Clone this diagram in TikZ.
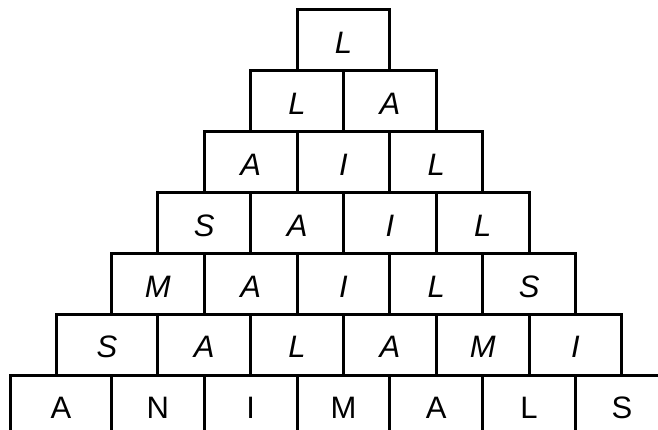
\documentclass[tikz,border=0pt]{standalone}
\usepackage{fontspec}
\setmainfont{Liberation Sans}
\tikzset{
    cell/.style={draw, line width=3pt, minimum width=92.8pt, minimum height=60.9pt,
        inner sep=0pt, text height=26pt, text depth=0pt, font=\fontsize{31}{32}\selectfont},
    slanted/.style={font=\fontsize{31}{32}\selectfont\itshape},
    widecell/.style={minimum width=101.8pt}
}
\begin{document}
\begin{tikzpicture}[x=1pt, y=-1pt]
    \clip (0,0) rectangle (658,430);
    
    % upper rows: cell c of row r
    \foreach \r/\word in {1/{L}, 2/{L,A}, 3/{A,I,L}, 4/{S,A,I,L}, 5/{M,A,I,L,S}} {
        \foreach \ch [count=\c from 0] in \word {
            \node[cell, slanted] (r\r c\c) at ({343.5+(\c-(\r-1)/2)*92.8}, {10+(\r-0.5)*60.9}) {\ch};
        }
    }
    
    % row 6, first cell is wider
    \node[cell, slanted, widecell] (r6c0) at (107, {10+5.5*60.9}) {S};
    \foreach \ch [count=\c from 1] in {A,L,A,M,I} {
        \node[cell, slanted] (r6c\c) at ({343.5+(\c-2.5)*92.8}, {10+5.5*60.9}) {\ch};
    }
    
    % bottom row, upright letters
    \node[cell, widecell] (r7c0) at (60.9, {10+6.5*60.9}) {A};
    \foreach \ch [count=\c from 1] in {N,I,M,A,L,S} {
        \node[cell] (r7c\c) at ({343.5+(\c-3)*92.8}, {10+6.5*60.9}) {\ch};
    }
\end{tikzpicture}
\end{document}
